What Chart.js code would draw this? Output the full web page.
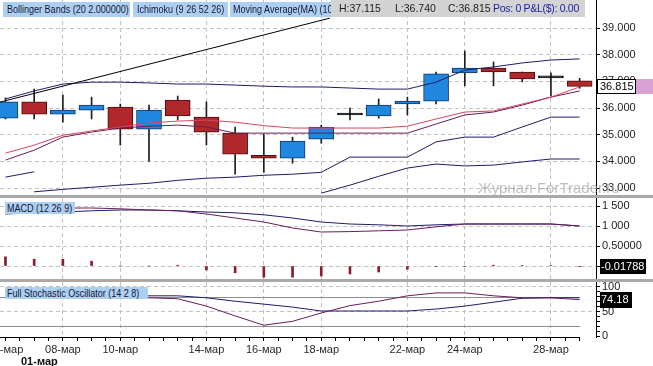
<!DOCTYPE html>
<html><head><meta charset="utf-8">
<script src="https://cdn.jsdelivr.net/npm/chart.js@4.4.1/dist/chart.umd.min.js"></script>
<style>
html,body{margin:0;padding:0;background:#fff;width:653px;height:366px;overflow:hidden;font-family:"Liberation Sans",Arial,sans-serif;}
canvas{position:absolute;left:0;display:block;}
.sep{position:absolute;left:0;width:653px;height:3px;background:#a9a9a9;}
.tag{position:absolute;font-size:11px;color:#15153a;background:#aed0f0;white-space:nowrap;overflow:hidden;}
.tag span{display:inline-block;transform:scaleX(0.82);transform-origin:0 50%;}
#info{position:absolute;left:331px;top:0;width:254px;height:17px;background:#d3d3d3;font-size:10.5px;line-height:16px;color:#222;}
#info span{position:absolute;top:0;white-space:nowrap;}
</style></head>
<body>
<canvas id="c1" width="653" height="195" style="top:0"></canvas>
<div class="sep" style="top:195px"></div>
<canvas id="c2" width="653" height="81" style="top:198px"></canvas>
<div class="sep" style="top:279px"></div>
<canvas id="c3" width="653" height="84" style="top:282px"></canvas>

<div class="tag" style="left:3px;top:2px;width:127px;height:15px;line-height:15px;"><span style="margin-left:4px">Bollinger Bands (20 2.000000)</span></div>
<div class="tag" style="left:133px;top:2px;width:95px;height:15px;line-height:15px;"><span style="margin-left:4px">Ichimoku (9 26 52 26)</span></div>
<div class="tag" style="left:230px;top:2px;width:101px;height:15px;line-height:15px;"><span style="margin-left:3px">Moving Average(MA) (10)</span></div>
<div id="info"><span id="iH" style="left:8px"></span><span id="iL" style="left:64px"></span><span id="iC" style="left:117px"></span><span id="iP" style="left:162px;color:#1c1ca8;letter-spacing:-0.3px"></span></div>
<div class="tag" style="left:5px;top:202px;width:70px;height:12px;line-height:12px;"><span style="margin-left:2px">MACD (12 26 9)</span></div>
<div class="tag" style="left:5px;top:287px;width:143px;height:12px;line-height:12px;"><span style="margin-left:2px">Full Stochastic Oscillator (14 2 8)</span></div>

<script>
// ---------- data ----------
const dates = ['06-мар','07-мар','08-мар','09-мар','10-мар','11-мар','12-мар','14-мар','15-мар','16-мар','17-мар','18-мар','19-мар','21-мар','22-мар','23-мар','24-мар','25-мар','27-мар','28-мар','29-мар'];
const labelIdx = [0,2,4,7,9,11,14,16,19];
const monthLabel = '01-мар';

const openP  = [35.62,36.23,35.77,35.92,36.04,35.21,36.30,35.66,35.06,34.23,34.12,34.83,35.74,35.70,36.15,36.26,37.32,37.50,37.35,37.13,37.02];
const highP  = [36.38,36.71,36.49,36.41,36.15,36.11,36.45,36.23,35.29,35.02,34.91,35.36,36.00,36.34,36.41,37.35,38.14,37.73,37.35,37.32,37.115];
const lowP   = [35.59,35.59,35.47,35.59,34.61,34.00,35.55,34.61,33.52,33.59,33.93,34.68,35.55,35.62,35.74,36.15,36.83,36.83,36.98,36.45,36.740];
const closeP = [36.23,35.77,35.92,36.11,35.21,35.92,35.70,35.10,34.27,34.12,34.76,35.29,35.74,36.11,36.26,37.28,37.50,37.35,37.09,37.13,36.815];

const bbUpper  = [36.34,36.64,36.90,36.97,36.97,36.94,36.90,36.90,36.86,36.82,36.79,36.79,36.75,36.71,36.71,36.97,37.42,37.54,37.69,37.80,37.84];
const lowerA   = [33.41,33.61,null,null,null,null,null,null,null,null,null,null,null,null,null,null,null,null,null,null,null];
const lowerB   = [null,32.86,32.95,33.03,33.11,33.18,33.29,33.37,33.41,33.48,33.52,33.59,34.16,34.16,34.16,34.73,34.91,34.91,35.29,35.66,35.66];
const lowerC   = [null,null,null,null,null,null,null,null,null,null,null,32.81,33.11,33.44,33.75,33.90,33.83,33.86,33.98,34.09,34.09];
const maRed    = [34.31,34.61,34.98,35.14,35.29,35.44,35.51,35.55,35.47,35.34,35.25,35.25,35.25,35.25,35.32,35.59,35.85,35.89,36.15,36.41,36.79];
const maPurple = [34.05,34.42,34.91,35.10,35.25,35.32,35.36,35.29,35.06,35.06,35.06,35.06,35.06,35.06,35.06,35.40,35.74,35.85,36.11,36.41,36.64];
const trendX = [-0.2, 11.3];
const trendY = [36.22, 39.37];
const priceTicks = [33,34,35,36,37,38,39];

const macdLine   = [1.43,1.45,1.45,1.45,1.43,1.40,1.38,1.30,1.20,1.10,0.95,0.85,0.86,0.88,0.90,0.98,1.05,1.05,1.05,1.05,1.00];
const macdSignal = [1.30,1.33,1.35,1.38,1.40,1.40,1.38,1.35,1.33,1.28,1.20,1.10,1.05,1.03,1.00,1.03,1.05,1.05,1.05,1.05,1.00];
const macdHist   = [0.23,0.17,0.17,0.12,0,0,0.02,-0.10,-0.17,-0.28,-0.28,-0.25,-0.20,-0.15,-0.08,-0.01,-0.01,0.02,0.01,0.01,-0.01788];
const macdTicks = [0,0.5,1,1.5];
const macdTickLabels = ['0.00000','0.50000','1 000','1 500'];

const stochK = [92,90,88,84,80,78,76,61,41,22,30,47,62,71,82,88,88,82,78,78,74.18];
const stochD = [90,90,88,86,84,82,82,78,71,65,59,51,51,51,51,55,61,69,77,78,78];
const stochLevels = [20,80];
const stochTicks = [0,50,100];

// ---------- setup ----------
const X_MIN = -0.19, X_MAX = 20.57;
const GRID = '#c2c2c2';
const BLUE = '#1f87dd', RED = '#b0282c';
const NAVY = '#1c1c6a', PURPLE = '#6a1c58', PINK = '#d6455f';
const last = closeP.length - 1;
Chart.defaults.font.family = '"Liberation Sans", Arial, sans-serif';
Chart.defaults.font.size = 11;

document.getElementById('iH').textContent = 'H:' + highP[last].toFixed(3);
document.getElementById('iL').textContent = 'L:' + lowP[last].toFixed(3);
document.getElementById('iC').textContent = 'C:' + closeP[last].toFixed(3);
document.getElementById('iP').textContent = 'Pos: 0 P&L($): 0.00';

const pts = arr => arr.map((v, i) => ({x: i, y: v}));
const halfSteps = [];
for (let v = 0; v <= last; v += 0.5) halfSteps.push(v);

function xScale(show) {
  const tv = show ? halfSteps : labelIdx;
  return {
    type: 'linear', min: X_MIN, max: X_MAX, offset: false,
    afterBuildTicks: s => { s.ticks = tv.map(v => ({value: v})); },
    afterFit: s => { s.height = show ? 29 : 0; s.paddingLeft = 0; s.paddingRight = 0; },
    grid: {offset: false, drawTicks: show, tickLength: 4, tickColor: '#000', lineWidth: 1,
      color: c => (c.tick && labelIdx.indexOf(c.tick.value) > 0) ? GRID : 'rgba(0,0,0,0)'},
    border: {display: false, dash: [4, 3]},
    ticks: {display: show, autoSkip: false, maxRotation: 0, minRotation: 0, padding: 2, color: '#2a2a2a',
      callback: v => labelIdx.indexOf(v) >= 0 ? dates[v] : ''}
  };
}
function yScale(min, max, tickVals, labelFn, gridFn) {
  return {
    position: 'right', min: min, max: max,
    afterBuildTicks: s => { s.ticks = tickVals.map(v => ({value: v})); },
    afterFit: s => { s.width = 57; s.paddingTop = 0; s.paddingBottom = 0; },
    grid: {color: gridFn || GRID, tickLength: 4, tickColor: '#000', lineWidth: 1},
    border: {display: true, color: '#000', width: 1, dash: [4, 3]},
    ticks: {padding: 2, color: '#222', autoSkip: false, callback: labelFn}
  };
}
const base = {responsive: false, animation: false, events: [], devicePixelRatio: 1,
  layout: {padding: 0}, plugins: {legend: {display: false}, tooltip: {enabled: false}}};
const line = (data, color, order) => ({type: 'line', data: data, borderColor: color, borderWidth: 1,
  pointRadius: 0, tension: 0, spanGaps: false, fill: false, order: order === undefined ? 0 : order});
const candleColor = i => closeP[i] > openP[i] ? BLUE : (closeP[i] < openP[i] ? RED : '#000');
const candleBorder = i => closeP[i] > openP[i] ? '#173068' : (closeP[i] < openP[i] ? '#4a0c10' : '#000');

// ---------- main price chart ----------
new Chart(document.getElementById('c1'), {
  type: 'bar',
  data: {datasets: [
    line(trendX.map((x, k) => ({x: x, y: trendY[k]})), '#000'),
    line(pts(bbUpper), NAVY),
    line(pts(lowerA), NAVY),
    line(pts(lowerB), NAVY),
    line(pts(lowerC), NAVY),
    line(pts(maRed), PINK),
    line(pts(maPurple), PURPLE),
    {type: 'bar', data: openP.map((o, i) => ({x: i, y: [o, closeP[i]]})), grouped: false,
      barThickness: 25, maxBarThickness: 25, minBarLength: 2, borderSkipped: false, borderWidth: 1,
      backgroundColor: c => candleColor(c.dataIndex), borderColor: c => candleBorder(c.dataIndex), order: 1},
    {type: 'bar', data: lowP.map((l, i) => ({x: i, y: [l, highP[i]]})), grouped: false,
      barThickness: 1, maxBarThickness: 1, borderWidth: 0, backgroundColor: '#1e1e1e', order: 2}
  ]},
  options: Object.assign({}, base, {
    scales: {
      x: xScale(false),
      y: yScale(32.74, 40.05, priceTicks, v => v.toFixed(3))
    }
  }),
  plugins: [{
    id: 'priceExtras',
    afterDatasetsDraw(chart) {
      const ctx = chart.ctx;
      ctx.save();
      ctx.font = '15px "Liberation Sans", Arial, sans-serif';
      ctx.fillStyle = 'rgba(150,150,150,0.6)';
      ctx.textBaseline = 'alphabetic';
      ctx.fillText('Журнал ForTrader.ru', 478, 193);
      ctx.restore();
    },
    afterDraw(chart) {
      const ctx = chart.ctx, y = chart.scales.y, r = chart.chartArea.right;
      const v = closeP[last];
      const py = Math.round(y.getPixelForValue(v));
      ctx.save();
      ctx.fillStyle = '#d9a2d5'; ctx.fillRect(r + 40, py - 7, 653 - r - 40, 15);
      ctx.fillStyle = '#fff'; ctx.fillRect(r + 1, py - 7, 39, 15);
      ctx.strokeStyle = '#000'; ctx.lineWidth = 1; ctx.strokeRect(r + 1.5, py - 6.5, 38, 14);
      ctx.fillStyle = '#000'; ctx.font = '11px "Liberation Sans", Arial, sans-serif';
      ctx.textBaseline = 'middle'; ctx.fillText(v.toFixed(3), r + 4, py + 1);
      ctx.restore();
    }
  }]
});

// ---------- MACD chart ----------
new Chart(document.getElementById('c2'), {
  type: 'bar',
  data: {datasets: [
    line(pts(macdLine), PURPLE),
    line(pts(macdSignal), NAVY),
    {type: 'bar', data: pts(macdHist), grouped: false, barThickness: 2, maxBarThickness: 2,
      backgroundColor: '#8b1d2d', borderWidth: 0, order: 1}
  ]},
  options: Object.assign({}, base, {
    scales: {
      x: xScale(false),
      y: yScale(-0.325, 1.7, macdTicks, v => macdTickLabels[macdTicks.indexOf(v)])
    }
  }),
  plugins: [{
    id: 'macdBox',
    afterDraw(chart) {
      const ctx = chart.ctx, y = chart.scales.y, r = chart.chartArea.right;
      const v = macdHist[last];
      const py = Math.round(y.getPixelForValue(v));
      ctx.save();
      ctx.fillStyle = '#000'; ctx.fillRect(r + 4, py - 8, 46, 15);
      ctx.fillStyle = '#fff'; ctx.font = '11px "Liberation Sans", Arial, sans-serif';
      ctx.textBaseline = 'middle'; ctx.fillText(v.toFixed(5), r + 5, py);
      ctx.restore();
    }
  }]
});

// ---------- Stochastic chart ----------
const stochMinor = [];
for (let v = 0; v <= 100; v += 10) stochMinor.push(v);
new Chart(document.getElementById('c3'), {
  type: 'line',
  data: {datasets: [
    line(pts(stochK), PURPLE),
    line(pts(stochD), NAVY)
  ]},
  options: Object.assign({}, base, {
    scales: {
      x: xScale(true),
      y: yScale(-2.04, 110.2, stochMinor, v => stochTicks.indexOf(v) >= 0 ? String(v) : '',
        c => (c.tick && (c.tick.value === 50 || c.tick.value === 100)) ? GRID : 'rgba(0,0,0,0)')
    }
  }),
  plugins: [{
    id: 'stochExtras',
    beforeDatasetsDraw(chart) {
      const ctx = chart.ctx, x = chart.scales.x, y = chart.scales.y, a = chart.chartArea;
      const xe = Math.round(x.getPixelForValue(last));
      ctx.save();
      ctx.lineWidth = 1;
      ctx.strokeStyle = '#8c8c8c';
      stochLevels.forEach(l => {
        const py = Math.round(y.getPixelForValue(l)) + 0.5;
        ctx.beginPath(); ctx.moveTo(a.left, py); ctx.lineTo(xe, py); ctx.stroke();
      });
      ctx.strokeStyle = '#000';
      ctx.beginPath(); ctx.moveTo(a.left, a.bottom + 0.5); ctx.lineTo(xe, a.bottom + 0.5); ctx.stroke();
      ctx.restore();
    },
    afterDraw(chart) {
      const ctx = chart.ctx, y = chart.scales.y, r = chart.chartArea.right;
      const v = stochK[last];
      const py = Math.round(y.getPixelForValue(v));
      ctx.save();
      ctx.fillStyle = '#000'; ctx.fillRect(r + 4, py - 8, 32, 16);
      ctx.fillStyle = '#fff'; ctx.font = '11px "Liberation Sans", Arial, sans-serif';
      ctx.textBaseline = 'middle'; ctx.fillText(v.toFixed(2), r + 5, py);
      ctx.fillStyle = '#111'; ctx.font = 'bold 11px "Liberation Sans", Arial, sans-serif';
      ctx.fillText(monthLabel, 21, 80);
      ctx.restore();
    }
  }]
});
</script>
</body></html>
